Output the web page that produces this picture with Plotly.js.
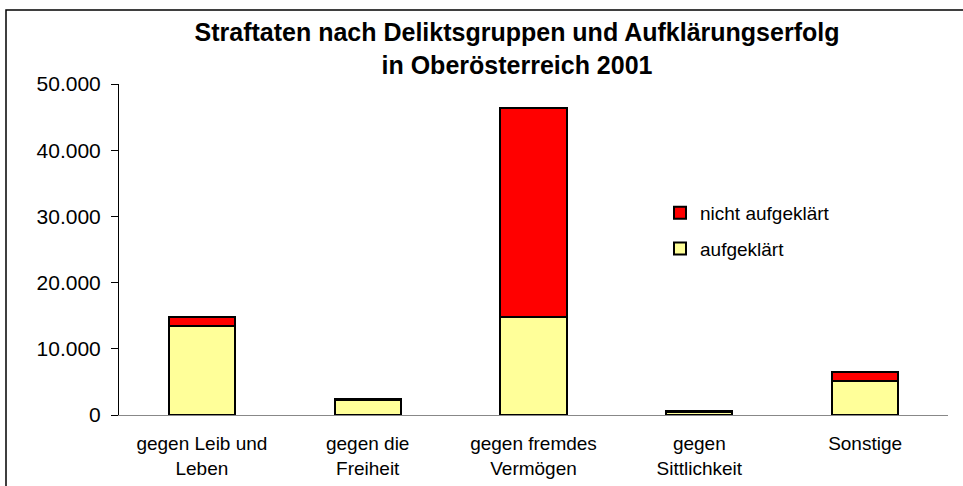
<!DOCTYPE html>
<html>
<head>
<meta charset="utf-8">
<script src="https://cdn.plot.ly/plotly-3.0.1.min.js"></script>
<style>html,body{margin:0;padding:0;background:#fff;}#chart{width:963px;height:486px;}</style>
</head>
<body>
<div id="chart"></div>
<script>
const categories = ["gegen Leib und<br>Leben", "gegen die<br>Freiheit", "gegen fremdes<br>Vermögen", "gegen<br>Sittlichkeit", "Sonstige"];
const aufgeklaert = [13400, 2300, 14750, 520, 5160];
const nichtAufgeklaert = [1400, 180, 31550, 60, 1400];
const seriesNames = ["aufgeklärt", "nicht aufgeklärt"];
const titleText = "<b>Straftaten nach Deliktsgruppen und Aufklärungserfolg<br>in Oberösterreich 2001</b>";

const W = 963, H = 486;
const L = 119, R = 948, T = 84, B = 415.5;
const pw = R - L, ph = B - T;
const px = x => (x - L) / pw;
const py = y => (B - y) / ph;

const traces = [
  {type: 'bar', x: categories, y: aufgeklaert, name: seriesNames[0], legendgroup: 'a', legendrank: 2,
   marker: {color: '#FFFF99', line: {color: '#000', width: 2}}},
  {type: 'bar', x: categories, y: nichtAufgeklaert, name: seriesNames[1], legendgroup: 'b', legendrank: 1,
   marker: {color: '#FF0000', line: {color: '#000', width: 2}}}
];

const layout = {
  width: W, height: H,
  margin: {l: L, r: W - R, t: T, b: H - B},
  paper_bgcolor: '#fff', plot_bgcolor: '#fff',
  barmode: 'stack', bargap: 0.6,
  separators: ',.',
  font: {family: 'Liberation Sans, Arial, sans-serif', size: 18, color: '#000'},
  title: {text: titleText, x: 517 / W, xref: 'container', xanchor: 'center',
          y: 1 - 41 / H, yref: 'container', yanchor: 'middle',
          font: {size: 25, family: 'Liberation Sans, Arial, sans-serif', color: '#000'}},
  xaxis: {showline: true, linecolor: '#888', linewidth: 1, ticks: '', showgrid: false,
          tickfont: {size: 19}, ticklabelstandoff: 11, fixedrange: true},
  yaxis: {range: [0, 50000], dtick: 10000, tickformat: ',.0f', showline: true, linecolor: '#000',
          linewidth: 1, ticks: 'outside', ticklen: 7, tickcolor: '#000', showgrid: false,
          zeroline: false, tickfont: {size: 21}, ticklabelstandoff: 6, fixedrange: true},
  legend: {x: px(660), y: py(194), xanchor: 'left', yanchor: 'top', bgcolor: 'rgba(0,0,0,0)',
           traceorder: 'grouped', tracegroupgap: 8, font: {size: 19}},
  showlegend: true,
  shapes: [{type: 'rect', xref: 'paper', yref: 'paper', x0: px(6), x1: px(966), y0: py(490), y1: py(10),
            line: {color: '#000', width: 1.5}, fillcolor: 'rgba(0,0,0,0)', layer: 'below'}]
};

Plotly.newPlot('chart', traces, layout, {displayModeBar: false, staticPlot: true});
</script>
</body>
</html>
